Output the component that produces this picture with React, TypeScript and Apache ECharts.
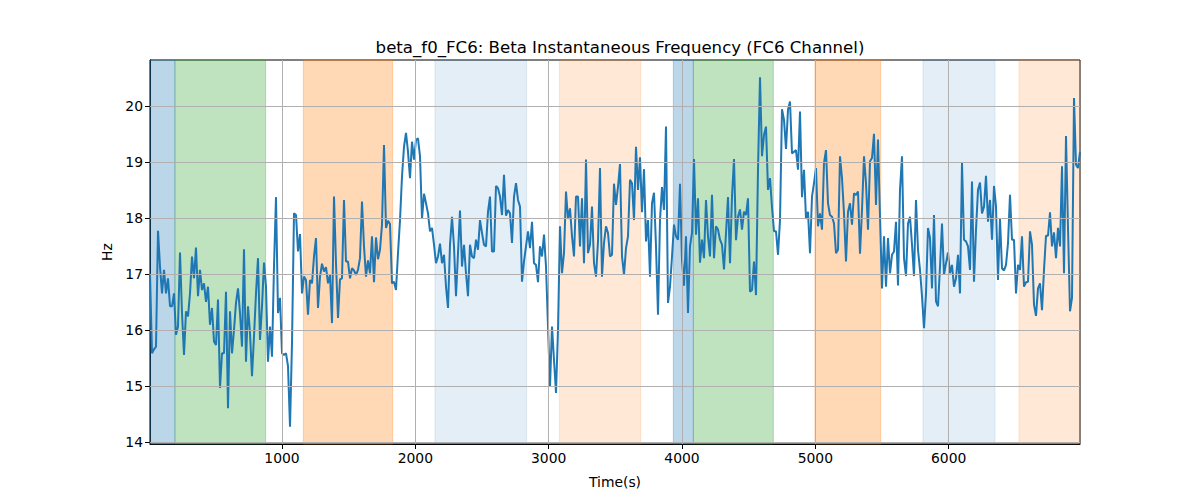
import React, { useEffect, useRef } from "react";
import * as echarts from "echarts";

// sampling clock of the recording (seconds index)
const START_TIME = 10;
const STEP = 15;

// instantaneous beta frequency, FC6 channel (Hz)
const hz = [
  17.0, 15.58, 15.65, 15.7, 17.77, 17.13, 16.65, 17.07, 16.65, 16.92,
  16.42, 16.42, 16.65, 15.91, 16.06, 17.38, 16.3, 15.55, 16.33, 16.24,
  16.65, 17.31, 16.92, 17.47, 16.6, 17.07, 16.71, 16.83, 16.5, 16.77,
  16.09, 16.39, 15.79, 15.73, 16.54, 14.96, 15.58, 15.58, 16.68, 14.6,
  16.33, 15.58, 16.0, 16.48, 16.74, 16.3, 15.7, 17.44, 15.43, 16.42,
  15.94, 15.17, 15.88, 16.65, 17.28, 15.82, 16.42, 17.2, 16.77, 15.43,
  16.06, 15.52, 17.13, 18.37, 16.3, 16.57, 15.58, 15.55, 15.58, 15.35,
  14.27, 15.76, 18.08, 18.05, 17.4, 17.71, 16.65, 16.95, 16.89, 16.27,
  16.89, 16.83, 17.31, 17.64, 16.39, 16.95, 17.18, 17.04, 17.12, 16.83,
  16.98, 16.12, 18.38, 17.19, 16.21, 16.9, 16.92, 18.32, 17.22, 17.22,
  16.92, 17.1, 17.06, 16.98, 17.07, 17.28, 18.29, 17.49, 16.95, 17.24,
  17.01, 17.67, 16.85, 17.65, 17.26, 17.43, 17.88, 19.3, 17.82, 17.95,
  17.89, 16.83, 16.86, 16.71, 17.37, 17.96, 18.74, 19.27, 19.52, 19.18,
  18.71, 19.36, 19.04, 19.39, 19.42, 19.1, 17.98, 18.43, 18.26, 18.08,
  17.76, 17.82, 17.52, 17.19, 17.31, 17.54, 17.19, 17.34, 16.77, 16.39,
  17.52, 18.02, 17.49, 16.6, 17.37, 18.13, 17.13, 17.52, 17.01, 16.6,
  17.52, 17.31, 17.28, 17.61, 17.43, 17.96, 17.73, 17.52, 17.49, 18.11,
  18.38, 17.4, 17.4, 18.57, 18.53, 18.38, 18.05, 18.77, 18.04, 18.14,
  18.08, 17.55, 18.38, 18.62, 18.32, 18.2, 16.86, 17.22, 17.49, 17.76,
  17.46, 17.93, 17.19, 17.16, 16.85, 17.49, 17.31, 17.7, 17.13, 16.06,
  14.99, 16.06, 15.46, 14.87, 16.0, 17.85, 17.01, 17.37, 18.47, 17.98,
  18.17, 17.67, 17.31, 18.38, 18.38, 17.49, 18.35, 17.19, 19.04, 17.37,
  17.52, 18.2, 17.19, 16.95, 17.58, 18.89, 16.95, 17.55, 17.85, 17.73,
  17.31, 17.34, 18.61, 18.23, 18.56, 18.96, 17.31, 16.98, 17.46, 17.67,
  18.68, 18.62, 17.96, 19.27, 18.5, 19.08, 18.1, 18.87, 17.58, 17.96,
  16.95, 18.26, 18.45, 17.49, 16.27, 17.96, 18.55, 18.14, 19.63, 16.48,
  16.77, 17.31, 17.88, 17.67, 17.61, 18.61, 17.25, 16.79, 17.67, 16.3,
  17.49, 17.73, 19.05, 17.7, 18.35, 17.2, 17.61, 17.28, 18.32, 17.67,
  17.31, 18.41, 17.28, 17.85, 17.79, 17.61, 17.52, 17.08, 17.73, 18.37,
  17.19, 18.38, 19.05, 17.6, 18.02, 18.15, 17.79, 18.11, 18.05, 18.35,
  16.68, 16.71, 17.22, 16.62, 18.86, 20.51, 19.1, 19.48, 19.63, 18.5,
  18.71, 18.19, 17.76, 17.76, 17.34, 17.96, 19.94, 19.75, 19.23, 19.93,
  20.08, 19.15, 19.18, 19.21, 18.86, 19.9, 18.37, 18.86, 17.98, 18.11,
  17.37, 18.38, 18.62, 18.89, 17.85, 18.08, 17.79, 18.98, 19.21, 18.26,
  18.05, 18.02, 17.9, 17.37, 17.43, 19.1, 18.71, 18.08, 17.22, 18.11,
  18.26, 17.88, 18.44, 18.41, 18.47, 17.36, 18.14, 19.1, 18.62, 17.79,
  19.01, 19.07, 19.5, 18.23, 19.4, 18.02, 16.74, 17.67, 16.77, 17.64,
  17.01, 17.34, 17.4, 17.93, 16.79, 18.5, 19.1, 17.28, 16.96, 17.9,
  18.02, 17.52, 16.96, 18.32, 17.43, 17.07, 16.6, 16.03, 16.65, 17.82,
  17.64, 16.74, 18.05, 16.51, 16.42, 17.13, 17.9, 16.98, 17.19, 17.38,
  17.01, 17.16, 16.77, 16.92, 17.34, 16.65, 18.98, 17.61, 17.58, 17.49,
  17.07, 18.65, 16.86, 17.79, 18.5, 18.63, 18.08, 18.2, 18.75, 17.93,
  18.32, 17.61, 18.57, 18.2, 16.89, 17.98, 17.1, 17.06, 17.16, 17.55,
  18.41, 17.61, 17.61, 16.65, 17.16, 17.07, 17.67, 16.77, 16.85, 16.86,
  17.76, 17.52, 16.45, 16.25, 16.74, 16.83, 16.35, 17.07, 17.68, 17.68,
  18.1, 17.49, 17.74, 17.28, 17.82, 17.49, 18.92, 17.01, 19.46, 17.82,
  16.33, 16.57, 20.14, 18.95, 18.89, 19.18,
];

// shaded segments (time range + kind)
const spanStart = [10, 197, 1160, 2147, 3080, 3935, 4085, 4997, 5807, 6527];
const spanEnd = [197, 877, 1830, 2835, 3690, 4085, 4685, 5490, 6347, 6985];
const spanKind = [
  "blue", "green", "orange", "lightblue", "lightorange",
  "blue", "green", "orange", "lightblue", "lightorange",
];

const xTicks = [1000, 2000, 3000, 4000, 5000, 6000];
const yTicks = [14, 15, 16, 17, 18, 19, 20];

const X_MIN = 10;
const X_MAX = 6985;
const Y_MIN = 13.96;
const Y_MAX = 20.82;

const kindColor: Record<string, string> = {
  blue: "rgba(31,119,180,0.3)",
  green: "rgba(44,160,44,0.3)",
  orange: "rgba(255,127,14,0.3)",
  lightblue: "rgba(31,119,180,0.12)",
  lightorange: "rgba(255,127,14,0.17)",
};

const FONT = "DejaVu Sans";

function FrequencyChart() {
  const chartRef = useRef<HTMLDivElement>(null);

  useEffect(() => {
    const myChart = echarts.init(chartRef.current!, null, { renderer: "svg" });

    const lineData = hz.map((v, i) => [START_TIME + i * STEP, v]);

    const areas = spanStart.map((s, i) => {
      const c = kindColor[spanKind[i]];
      return [
        { xAxis: s, itemStyle: { color: c, borderColor: c, borderWidth: 1 } },
        { xAxis: spanEnd[i] },
      ];
    });

    const gridLines = [
      ...xTicks.map((v) => ({ xAxis: v })),
      ...yTicks.map((v) => ({ yAxis: v })),
    ];

    const option: echarts.EChartsOption = {
      animation: false,
      backgroundColor: "#fff",
      title: {
        text: "beta_f0_FC6: Beta Instantaneous Frequency (FC6 Channel)",
        left: 615,
        top: 34,
        textAlign: "center",
        textStyle: {
          fontFamily: FONT,
          fontSize: 16.6,
          fontWeight: "normal",
          color: "#000",
        },
      },
      grid: {
        left: 150,
        right: 120,
        top: 60,
        bottom: 56,
        show: true,
        borderColor: "#000",
        borderWidth: 1,
        backgroundColor: "transparent",
      },
      xAxis: {
        type: "value",
        min: X_MIN,
        max: X_MAX,
        name: "Time(s)",
        nameLocation: "middle",
        nameGap: 31,
        nameTextStyle: { fontFamily: FONT, fontSize: 13.9, color: "#000" },
        splitLine: { show: false },
        axisLine: { onZero: false, lineStyle: { color: "#000", width: 1 } },
        axisTick: {
          customValues: xTicks,
          length: 5,
          lineStyle: { color: "#000" },
        },
        axisLabel: {
          customValues: xTicks,
          formatter: (v: number) => String(v),
          margin: 7,
          fontFamily: FONT,
          fontSize: 13.9,
          color: "#000",
        },
      },
      yAxis: {
        type: "value",
        min: Y_MIN,
        max: Y_MAX,
        name: "Hz",
        nameLocation: "middle",
        nameGap: 35,
        nameRotate: 90,
        nameTextStyle: { fontFamily: FONT, fontSize: 13.9, color: "#000" },
        splitLine: { show: false },
        axisLine: { show: true, onZero: false, lineStyle: { color: "#000", width: 1 } },
        axisTick: {
          show: true,
          customValues: yTicks,
          length: 5,
          lineStyle: { color: "#000" },
        },
        axisLabel: {
          customValues: yTicks,
          formatter: (v: number) => String(v),
          margin: 7,
          fontFamily: FONT,
          fontSize: 13.9,
          color: "#000",
        },
      },
      series: [
        {
          type: "line",
          data: [],
          z: 1,
          silent: true,
          markArea: { silent: true, data: areas as any },
        },
        {
          type: "line",
          data: [],
          z: 2,
          silent: true,
          markLine: {
            silent: true,
            symbol: "none",
            label: { show: false },
            lineStyle: { color: "#b0b0b0", width: 1, type: "solid" },
            data: gridLines as any,
          },
        },
        {
          type: "line",
          data: lineData,
          z: 3,
          showSymbol: false,
          symbol: "none",
          lineStyle: { color: "#1f77b4", width: 2 },
          itemStyle: { color: "#1f77b4" },
        },
      ],
    };

    myChart.setOption(option);

    return () => {
      myChart.dispose();
    };
  }, []);

  return (
    <div
      ref={chartRef}
      style={{ position: "absolute", left: 0, top: 0, width: 1200, height: 500 }}
    />
  );
}

export default function App() {
  return <FrequencyChart />;
}
